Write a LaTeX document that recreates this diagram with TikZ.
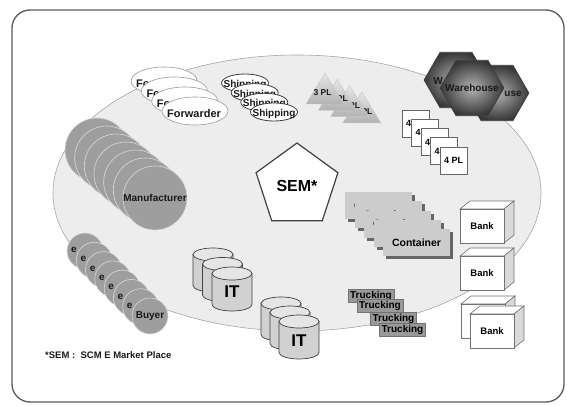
\documentclass[tikz,border=0pt]{standalone}
\usepackage{fontspec}
\setmainfont{Liberation Sans}
\usetikzlibrary{shapes.geometric}

% cylinder body + top, top-left corner (#1,#2)
\newcommand\itdrum[2]{%
  \filldraw[drum] (#1,#2+6.5) -- (#1,#2+37.5)
    arc[start angle=180, end angle=0, x radius=20, y radius=6.5]
    -- (#1+40,#2+6.5) -- cycle;
  \filldraw[drumtop] (#1+20,#2+6.5) ellipse[x radius=20, y radius=6.5];
}
% 3D bank box, front face top-left corner (#1,#2), node name #3
\newcommand\bankbox[3]{%
  \filldraw[banktop] (#1,#2) -- ++(10,-8) -- ++(44,0) -- ++(-10,8) -- cycle;
  \filldraw[bankside] (#1+44,#2) -- ++(10,-8) -- ++(0,34) -- ++(-10,8) -- cycle;
  \node[bankfront] (#3) at (#1+22,#2+17) {Bank};
}

\begin{document}
\begin{tikzpicture}[x=1pt,y=-1pt,
  txt/.style={inner sep=0pt, font=\bfseries\fontsize{10}{12}\selectfont, text=black!90},
  frame/.style={draw=black!65, line width=1.3pt, rounded corners=18pt},
  market/.style={fill=black!7, draw=black!35, line width=0.6pt},
  fwd/.style={ellipse, draw=black!40, fill=white, line width=0.6pt,
    minimum width=66pt, minimum height=28pt, inner sep=0pt},
  shp/.style={ellipse, draw=black!75, fill=white, line width=0.8pt,
    minimum width=47pt, minimum height=18pt, inner sep=0pt},
  tri/.style={top color=black!10, bottom color=black!30, draw=black!22, line width=0.4pt},
  hexa/.style={regular polygon, regular polygon sides=6, minimum size=64pt, inner sep=0pt,
    draw=black!75, line width=0.6pt, inner color=black!30, outer color=black!78},
  fourpl/.style={draw=black!60, fill=white, minimum size=27pt, inner sep=0pt, line width=0.6pt,
    font=\bfseries\fontsize{9}{11}\selectfont},
  sem/.style={regular polygon, regular polygon sides=5, minimum size=86pt, inner sep=0pt,
    draw=black!75, fill=white, line width=1.2pt, font=\bfseries\fontsize{16}{18}\selectfont},
  manu/.style={circle, fill=black!38, draw=black!15, line width=0.6pt, minimum size=64pt, inner sep=0pt},
  buy/.style={circle, fill=black!38, draw=black!15, line width=0.6pt, minimum size=36pt, inner sep=0pt},
  contshadow/.style={fill=black!60},
  cont/.style={fill=black!20, minimum width=67pt, minimum height=27pt, inner sep=0pt,
    font=\fontsize{10.5}{12}\selectfont\bfseries},
  truck/.style={fill=black!40, draw=black!55, line width=0.4pt, minimum width=46pt,
    minimum height=13pt, inner sep=0pt, font=\bfseries\fontsize{10}{12}\selectfont},
  drum/.style={fill=black!18, draw=black!75, line width=0.7pt},
  drumtop/.style={fill=black!10, draw=black!75, line width=0.7pt},
  itlbl/.style={inner sep=0pt, font=\bfseries\fontsize{17}{19}\selectfont},
  banktop/.style={fill=white, draw=black!55, line width=0.6pt},
  bankside/.style={fill=black!15, draw=black!55, line width=0.6pt},
  bankfront/.style={fill=white, draw=black!55, line width=0.6pt, minimum width=44pt,
    minimum height=34pt, inner sep=0pt, font=\bfseries\fontsize{9.5}{11}\selectfont}
]
\useasboundingbox (0,0) rectangle (567,406);

% outer frame and the market-place area
\draw[frame] (12,10) rectangle (564,402);
\draw[market] (297,193) ellipse[x radius=244, y radius=138];

% forwarders
\foreach \i/\x/\y in {1/164.1/81, 2/174.4/91, 3/184.7/101, 4/195/111} {
  \node[fwd] (fw\i) at (\x,\y) {};
  \node[txt, font=\bfseries\fontsize{11}{13}\selectfont] (fwt\i) at (\x-1,\y+2.5) {Forwarder};
}

% shipping lines
\foreach \i/\x/\y in {1/245/83, 2/254.7/92.7, 3/264.3/102.3, 4/274/112} {
  \node[shp] (sh\i) at (\x,\y) {};
  \node[txt] (sht\i) at (\x,\y+2) {Shipping};
}

% 3PL, front one at top-left
\foreach \i/\x/\y/\dx in {4/361.9/91.9/1.5, 3/349.6/85.6/1.5, 2/337.3/79.3/1.5, 1/325/73/-2.5} {
  \shade[tri] (\x,\y) -- (\x-19,\y+31) -- (\x+19,\y+31) -- cycle;
  \node[txt, font=\bfseries\fontsize{8.5}{10}\selectfont] (tpl\i) at (\x+\dx,\y+19.5) {3 PL};
}

% warehouses
\node[hexa] (wh1) at (456,80) {};
\node[txt] (wht1) at (438,81.5) {W};
\node[hexa] (wh2) at (497,93) {};
\node[txt] (wht2) at (513,94) {use};
\node[hexa] (wh3) at (472,88) {};
\node[txt] (wht3) at (wh3) {Warehouse};

% 4PL
\foreach \i in {0,...,4} {
  \node[fourpl] (fp\i) at (415.5+9.5*\i,123.5+9.25*\i) {4 PL};
}

% SEM
\node[sem] (semnode) at (297,186) {SEM*};

% manufacturers
\foreach \i in {0,...,6} {
  \node[manu] (mf\i) at (97+9.67*\i,150+8*\i) {};
}
\node[txt] (mft) at (mf6) {Manufacturer};

% buyers
\foreach \i in {0,...,6} {
  \node[buy] (by\i) at (85+9.29*\i,251+9.29*\i) {};
  \node[txt] (byt\i) at (85+9.29*\i-11,251+9.29*\i-1) {e};
}
\node[buy] (by7) at (150,316) {};
\node[txt] (byt7) at (by7) {Buyer};

% containers
\foreach \i in {0,...,4} {
  \fill[contshadow] (345+9.5*\i+3,192+9.25*\i+3) rectangle ++(67,27);
  \node[cont] (ct\i) at (378.5+9.5*\i,205.5+9.25*\i) {Container};
}

% IT systems
\itdrum{193}{248}
\itdrum{202.5}{257.5}
\itdrum{212}{267}
\node[itlbl] (it1) at (232,292) {IT};
\itdrum{261}{297}
\itdrum{270}{306}
\itdrum{279}{315}
\node[itlbl] (it2) at (299,341) {IT};

% trucking
\node[truck] (tr1) at (371,296) {Trucking};
\node[truck] (tr2) at (380,306) {Trucking};
\node[truck] (tr3) at (393.5,318.5) {Trucking};
\node[truck] (tr4) at (402.5,329.5) {Trucking};

% banks
\bankbox{460}{209}{bk1}
\bankbox{460}{256}{bk2}
\bankbox{461}{304}{bk3}
\bankbox{470}{314}{bk4}

% footnote
\node[txt, anchor=west, font=\bfseries\fontsize{9.5}{11}\selectfont] (note) at (45,355)
  {*SEM :\ \ SCM E Market Place};
\end{tikzpicture}
\end{document}
